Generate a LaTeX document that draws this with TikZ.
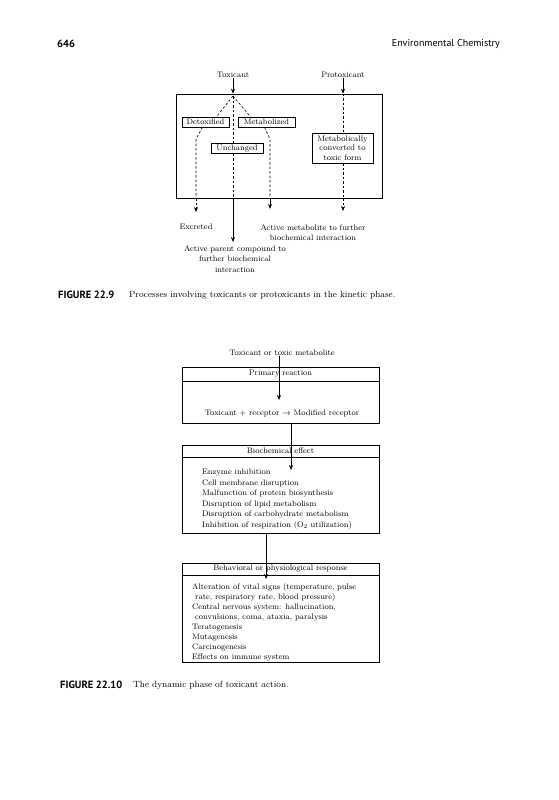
\documentclass[tikz,border=0pt]{standalone}
\usepackage{fontspec}
\newfontfamily\hsans{PT Sans}
\usetikzlibrary{arrows.meta,calc}
\begin{document}
\begin{tikzpicture}[x=1pt,y=-1pt,
  every node/.style={inner sep=0pt},
  lbl/.style={font=\fontsize{8}{10.5}\selectfont, align=center},
  arr/.style={-{Stealth[length=5pt,width=4pt]}, line width=0.6pt},
  dsh/.style={dashed, dash pattern=on 2.5pt off 2pt, line width=0.6pt},
  sbox/.style={draw, line width=0.6pt, font=\fontsize{8}{10}\selectfont, minimum height=10pt, align=center},
  frame/.style={draw, line width=0.6pt},
  hdr/.style={draw, line width=0.6pt, minimum width=197pt, font=\fontsize{8}{10}\selectfont},
  lst/.style={anchor=north west, align=left, font=\fontsize{8}{10.5}\selectfont},
  captext/.style={anchor=west, font=\fontsize{9}{11}\selectfont},
  capbold/.style={anchor=west, font=\hsans\bfseries\fontsize{10.5}{12}\selectfont}
]
\useasboundingbox[fill=white] (0,0) rectangle (558,800);

% page header
\node[anchor=west, font=\hsans\bfseries\fontsize{10.5}{12}\selectfont] (pg) at (57,44) {646};
\node[anchor=east, font=\hsans\fontsize{10}{12}\selectfont] (rh) at (500,44) {Environmental Chemistry};

% ===== Figure 22.9 =====
\node[lbl] (tox) at (233,75) {Toxicant};
\node[lbl] (prot) at (343,75) {Protoxicant};
\node[frame, minimum width=206pt, minimum height=104pt] (kbox) at (279,146) {};
\draw[line width=1.3pt] (kbox.north east) -- (kbox.south east);

\node[sbox, minimum width=47pt] (detox) at (205.5,122) {Detoxified};
\node[sbox, minimum width=57pt] (metab) at (266.5,122) {Metabolized};
\node[sbox, minimum width=52pt] (unch) at (237,148.5) {Unchanged};
\node[sbox, minimum width=61pt, minimum height=30pt, font=\fontsize{8}{9.5}\selectfont] (mconv) at (342.5,148) {Metabolically\\converted to\\toxic form};

\coordinate (top) at (233,96);
\draw[arr] (tox.south) -- (tox |- kbox.north);
\draw[arr] (prot.south) -- (prot |- kbox.north);

% dashed branches
\draw[dsh] (top) -- ([xshift=11pt]detox.north);
\draw[dsh] (top) -- ([xshift=-16pt]metab.north);
\draw[dsh] (top) -- (top |- unch.north);
\coordinate (ex1) at (196,139);
\coordinate (me1) at (270,139);
\draw[dsh] ([xshift=-3pt]detox.south) -- (ex1) -- (ex1 |- kbox.south);
\draw[dsh] ([xshift=-2pt]metab.south) -- (me1) -- (me1 |- kbox.south);
\draw[dsh] (top |- unch.south) -- (top |- kbox.south);
\draw[dsh] (prot |- kbox.north) -- (prot |- mconv.north);
\draw[dsh] (prot |- mconv.south) -- (prot |- kbox.south);

% outputs
\node[lbl] (exc) at (196,227) {Excreted};
\node[lbl] (amet) at (313,232.5) {Active metabolite to further\\biochemical interaction};
\node[lbl] (apar) at (235,259) {Active parent compound to\\further biochemical\\interaction};
\coordinate (exT) at (196,212);
\coordinate (paT) at (233,242);
\coordinate (meT) at (270,209);
\coordinate (prT) at (343,211);
\draw[arr, dash pattern=on 2.5pt off 2pt] (ex1 |- kbox.south) -- (exT);
\draw[arr] (top |- kbox.south) -- (paT);
\draw[arr, line width=0.9pt] (me1 |- kbox.south) -- (meT);
\draw[arr, dash pattern=on 2.5pt off 2pt] (prot |- kbox.south) -- (prT);

\node[capbold] (c1a) at (58,295) {FIGURE 22.9};
\node[captext] (c1b) at (129,295) {Processes involving toxicants or protoxicants in the kinetic phase.};

% ===== Figure 22.10 =====
\node[lbl] (tom) at (282,353) {Toxicant or toxic metabolite};
\node[hdr, minimum height=14pt] (h1) at (280.5,374) {Primary reaction};
\node[frame, minimum width=197pt, minimum height=42pt, anchor=north] (b1) at (h1.south) {};
\node[lbl] (eq) at (282,413) {Toxicant $+$ receptor $\rightarrow$ Modified receptor};
\coordinate (a1) at (279,400);
\draw[arr] (tom.south -| a1) -- (a1);

\node[hdr, minimum height=12pt] (h2) at (280.5,451) {Biochemical effect};
\node[frame, minimum width=197pt, minimum height=76pt, anchor=north] (b2) at (h2.south) {};
\coordinate (a2) at (291,470);
\draw[arr] (b1.south -| a2) -- (a2);
\node[lst] (l2) at (202,469) {Enzyme inhibition\\Cell membrane disruption\\Malfunction of protein biosynthesis\\Disruption of lipid metabolism\\Disruption of carbohydrate metabolism\\Inhibition of respiration (O$_2$ utilization)};

\node[hdr, minimum height=12pt] (h3) at (280.5,569) {Behavioral or physiological response};
\node[frame, minimum width=197pt, minimum height=87pt, anchor=north] (b3) at (h3.south) {};
\coordinate (a3) at (266,579);
\draw[arr] (b2.south -| a3) -- (a3);
\node[lst, font=\fontsize{8}{10}\selectfont] (l3) at (192,583.5) {Alteration of vital signs (temperature, pulse\\\hspace*{3pt}rate, respiratory rate, blood pressure)\\Central nervous system: hallucination,\\\hspace*{3pt}convulsions, coma, ataxia, paralysis\\Teratogenesis\\Mutagenesis\\Carcinogenesis\\Effects on immune system};

\node[capbold] (c2a) at (60,685) {FIGURE 22.10};
\node[captext] (c2b) at (133,685) {The dynamic phase of toxicant action.};
\end{tikzpicture}
\end{document}
